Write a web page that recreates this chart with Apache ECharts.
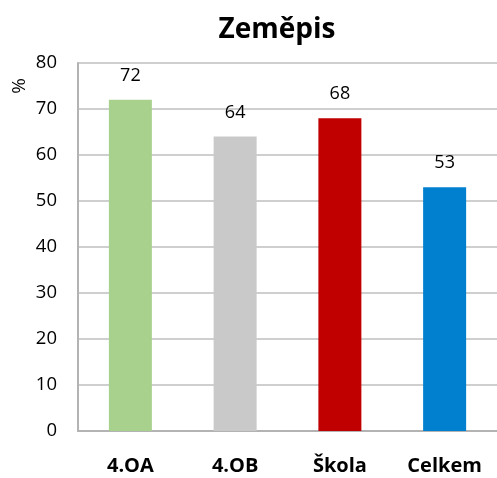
<!DOCTYPE html>
<html><head><meta charset="utf-8">
<script src="https://cdn.jsdelivr.net/npm/echarts@6/dist/echarts.min.js"></script>
<style>html,body{margin:0;padding:0;background:#fff}#c{width:497px;height:478px}</style>
</head><body><div id="c"></div>
<script>
const categories = ['4.OA', '4.OB', 'Škola', 'Celkem'];
const values = [72, 64, 68, 53];
const barColors = ['#A9D18E', '#C9C9C9', '#C00000', '#0080CF'];
const yTicks = [0, 10, 20, 30, 40, 50, 60, 70, 80];
const titleText = 'Zeměpis';
const yName = '%';

const chart = echarts.init(document.getElementById('c'));
chart.setOption({
  animation: false,
  title: {
    text: titleText, left: 272, top: 11, textAlign: 'center',
    textStyle: { fontFamily: 'Open Sans', fontWeight: 'bold', fontSize: 28, color: '#000' }
  },
  graphic: [{
    type: 'text', x: 20, y: 86, rotation: Math.PI / 2,
    style: { text: yName, fontFamily: 'Open Sans', fontSize: 19, fill: '#000', align: 'center', verticalAlign: 'middle' }
  }],
  grid: { left: 78, right: 0, top: 63, bottom: 47 },
  xAxis: {
    type: 'category', data: categories,
    axisLine: { lineStyle: { color: '#B3B3B3', width: 2 } },
    axisTick: { show: false },
    axisLabel: { fontFamily: 'Open Sans', fontWeight: 'bold', fontSize: 20, color: '#000', margin: 25 }
  },
  yAxis: {
    type: 'value', min: yTicks[0], max: yTicks[yTicks.length - 1], interval: 10,
    axisLine: { show: true, lineStyle: { color: '#B3B3B3', width: 2 } },
    axisTick: { show: false },
    splitLine: { lineStyle: { color: '#BFBFBF', width: 1.5 } },
    axisLabel: { fontFamily: 'Open Sans', fontSize: 18.5, color: '#000', margin: 21 }
  },
  series: [{
    type: 'bar', barWidth: 43,
    data: values.map((v, i) => ({ value: v, itemStyle: { color: barColors[i] } })),
    label: { show: true, position: 'top', distance: 15, fontFamily: 'Open Sans', fontSize: 18, color: '#000' }
  }]
});
</script></body></html>
